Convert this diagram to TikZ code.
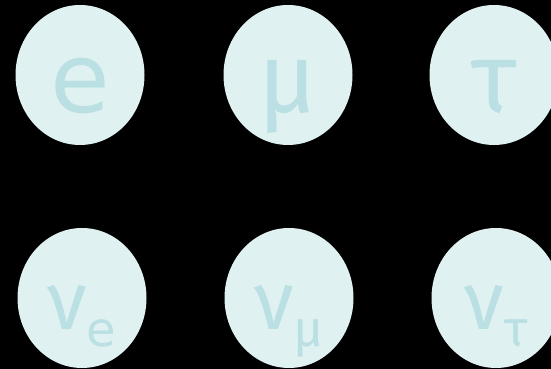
\documentclass[tikz,border=0pt]{standalone}
\usepackage{fontspec}
\setmainfont{DejaVu Sans}
\newfontfamily\greekfont{Fira Sans}
\usetikzlibrary{shapes.geometric}

\definecolor{bubble}{RGB}{224,241,241}
\definecolor{glyph}{RGB}{186,224,228}

\newcommand{\gr}[1]{{\greekfont #1}}
\newcommand{\flavour}[2][48]{\raisebox{-17pt}{\fontsize{#1}{#1}\selectfont #2}}

\begin{document}
\begin{tikzpicture}[x=1pt, y=1pt,
  particle/.style={ellipse, fill=bubble, minimum width=129pt, minimum height=140pt,
    inner sep=0pt, text=glyph, text depth=0pt},
  charged/.style={particle, text height=76pt, font=\fontsize{97}{97}\selectfont},
  neutral/.style={particle, text height=64pt, font=\fontsize{82}{82}\selectfont}]

  \useasboundingbox (0,0) rectangle (551,369);
  \fill[black] (0,0) rectangle (551,369);

  % -- Charged leptons --
  \node[charged] (e)   at (80,294)  {e};
  \node[charged] (mu)  at (288,294) {\fontsize{99}{99}\gr{μ}};
  \node[charged] (tau) at (494,294) {\fontsize{99}{99}\gr{τ}};

  % -- Neutrinos --
  \node[neutral] (nue)   at (82,71)  {\gr{ν}\flavour{e}};
  \node[neutral] (numu)  at (289,71) {\gr{ν}\flavour[51]{\gr{μ}}};
  \node[neutral] (nutau) at (496,71) {\gr{ν}\flavour[51]{\gr{τ}}};

\end{tikzpicture}
\end{document}
